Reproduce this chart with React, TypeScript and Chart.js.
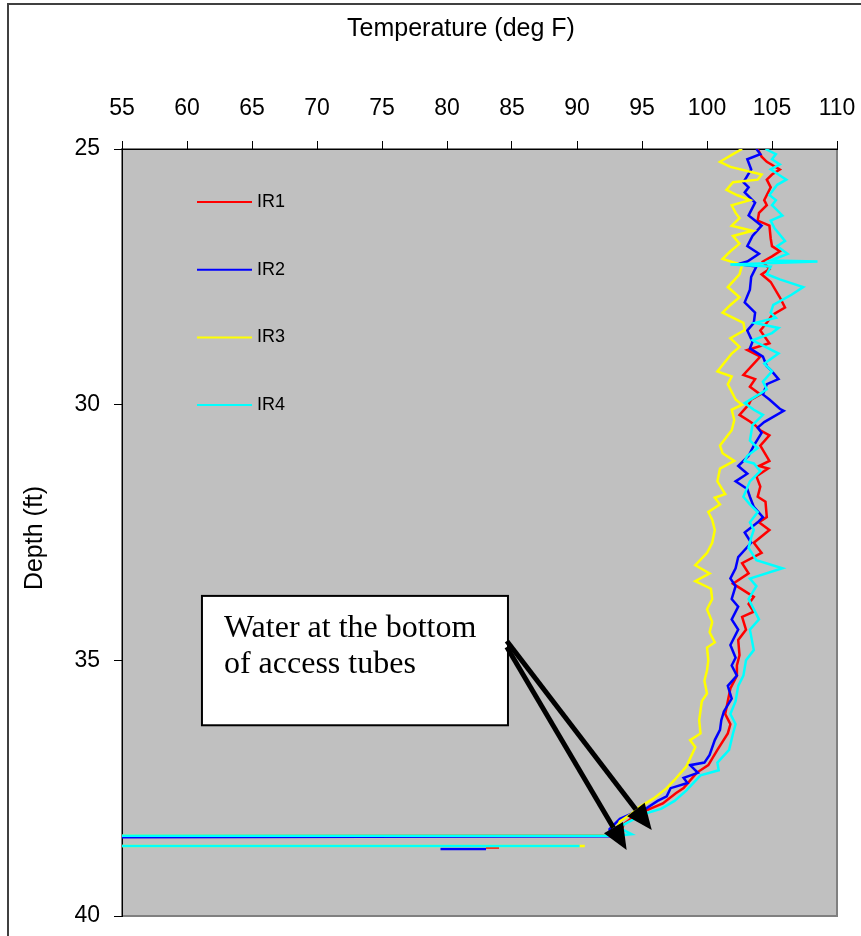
import React, { useEffect, useRef } from "react";
import { Chart, registerables } from "chart.js";

Chart.register(...registerables);

// ---------- data ----------
const seriesNames = ["IR1", "IR2", "IR3", "IR4"];
const seriesColors = ["#FF0000", "#0000FF", "#FFFF00", "#00FFFF"];

const xTicks = [55, 60, 65, 70, 75, 80, 85, 90, 95, 100, 105, 110];
const yTicks = [25, 30, 35, 40];

// IR1 (red)
const ir1Depth = [25.0, 25.15, 25.25, 25.4, 25.5, 25.6, 25.75, 26.0, 26.1, 26.25, 26.4, 26.5, 26.75, 26.9, 27.0, 27.1, 27.2, 27.35, 27.45, 27.6, 27.9, 28.1, 28.25, 28.4, 28.55, 28.8, 28.93, 29.06, 29.42, 29.5, 29.65, 29.8, 29.9, 30.0, 30.2, 30.33, 30.4, 30.5, 30.6, 30.8, 31.1, 31.2, 31.25, 31.4, 31.6, 31.8, 31.9, 32.2, 32.3, 32.45, 32.7, 32.9, 33.1, 33.3, 33.5, 33.76, 33.9, 34.05, 34.15, 34.4, 34.6, 34.9, 35.1, 35.3, 35.55, 35.8, 36.05, 36.25, 36.43, 36.75, 37.05, 37.2, 37.5, 37.6, 37.8, 37.95, 38.05, 38.2, 38.35, 38.42, 38.45, null, 38.66, 38.66];
const ir1Temp = [103.9, 104.2, 104.6, 105.6, 105.0, 104.6, 104.9, 104.4, 104.6, 104.0, 103.9, 104.8, 104.9, 105.0, 105.6, 105.0, 104.3, 104.8, 104.2, 104.9, 105.6, 106.0, 105.0, 104.6, 104.1, 104.8, 103.1, 104.1, 102.8, 103.7, 103.3, 104.1, 103.4, 103.2, 102.5, 103.3, 103.7, 104.1, 104.8, 104.1, 104.8, 104.0, 104.7, 103.8, 104.1, 103.9, 104.5, 104.6, 104.0, 104.8, 103.6, 104.2, 102.7, 103.2, 102.0, 103.6, 103.2, 103.6, 102.7, 103.0, 102.4, 102.5, 102.3, 102.3, 101.8, 101.6, 101.4, 101.8, 101.6, 100.8, 100.1, 99.2, 98.2, 97.6, 96.6, 95.2, 94.4, 93.6, 93.4, 93.0, 40.0, null, 83.0, 84.0];

// IR2 (blue)
const ir2Depth = [25.0, 25.1, 25.2, 25.4, 25.65, 25.75, 25.85, 26.05, 26.3, 26.5, 26.7, 26.9, 27.05, 27.2, 27.25, 27.3, 27.5, 27.75, 28.0, 28.2, 28.4, 28.55, 28.77, 28.9, 29.06, 29.25, 29.35, 29.5, 29.6, 29.8, 29.9, 30.08, 30.12, 30.34, 30.45, 30.55, 30.8, 31.0, 31.2, 31.35, 31.5, 31.65, 31.8, 32.0, 32.2, 32.3, 32.5, 32.7, 32.98, 33.2, 33.4, 33.55, 33.8, 33.95, 34.2, 34.4, 34.7, 34.95, 35.1, 35.3, 35.5, 35.75, 36.0, 36.17, 36.36, 36.56, 36.85, 37.0, 37.05, 37.2, 37.3, 37.4, 37.5, 37.66, 37.75, 37.9, 38.0, 38.1, 38.3, 38.44, 38.47, null, 38.69, 38.69];
const ir2Temp = [103.8, 104.1, 103.1, 103.4, 102.8, 103.2, 102.9, 103.7, 103.2, 104.2, 103.5, 103.1, 104.0, 103.1, 102.4, 103.8, 103.4, 103.3, 102.9, 103.7, 103.6, 103.1, 103.5, 103.3, 104.3, 104.6, 105.0, 105.5, 104.6, 104.3, 104.8, 105.6, 105.9, 104.4, 103.9, 104.2, 103.6, 103.2, 102.4, 103.1, 102.2, 103.1, 103.3, 103.6, 104.3, 103.9, 102.9, 103.4, 102.4, 102.2, 101.8, 102.2, 101.9, 102.4, 101.9, 102.4, 101.8, 102.2, 101.9, 102.3, 101.6, 101.9, 101.3, 101.1, 101.0, 100.6, 100.2, 99.8, 98.7, 99.3, 98.2, 98.5, 97.2, 96.9, 96.2, 95.3, 94.2, 93.3, 92.5, 92.6, 40.0, null, 79.5, 83.0];

// IR3 (yellow)
const ir3Depth = [25.0, 25.1, 25.25, 25.35, 25.5, 25.6, 25.65, 25.8, 25.9, 26.0, 26.1, 26.25, 26.35, 26.5, 26.6, 26.7, 26.85, 27.0, 27.15, 27.27, 27.45, 27.7, 27.9, 28.05, 28.2, 28.4, 28.54, 28.7, 28.87, 29.0, 29.35, 29.45, 29.6, 29.9, 30.0, 30.1, 30.3, 30.5, 30.8, 30.95, 31.1, 31.25, 31.5, 31.75, 31.82, 31.95, 32.1, 32.25, 32.45, 32.7, 32.9, 33.14, 33.3, 33.45, 33.6, 33.8, 34.0, 34.25, 34.45, 34.65, 34.75, 35.0, 35.2, 35.4, 35.65, 35.8, 36.17, 36.43, 36.56, 36.7, 37.08, 37.34, 37.5, 37.7, 37.87, 38.0, 38.15, 38.27, 38.38, 38.43, 38.43, 38.63, 38.63];
const ir3Temp = [102.7, 102.0, 101.0, 101.8, 104.2, 103.9, 102.0, 101.5, 102.3, 103.3, 101.9, 102.2, 102.5, 101.9, 103.5, 102.0, 102.5, 101.8, 101.2, 102.7, 102.5, 101.6, 102.5, 101.8, 101.2, 102.8, 102.9, 101.8, 102.5, 101.9, 100.8, 101.9, 101.6, 102.2, 102.7, 101.9, 102.1, 101.9, 101.0, 101.2, 102.1, 101.0, 100.8, 101.4, 100.6, 101.0, 100.1, 100.4, 100.6, 100.4, 100.0, 99.1, 100.2, 99.1, 100.3, 100.4, 100.0, 100.4, 100.2, 100.6, 100.0, 100.1, 100.0, 99.8, 100.0, 99.6, 99.4, 99.5, 98.7, 99.1, 98.4, 97.5, 96.9, 95.9, 94.8, 94.2, 93.3, 93.1, 92.8, 92.6, 40.0, 40.0, 90.6];

// IR4 (cyan)
const ir4Depth = [25.0, 25.1, 25.2, 25.3, 25.4, 25.6, 25.7, 25.9, 26.0, 26.1, 26.3, 26.4, 26.55, 26.8, 26.9, 27.05, 27.18, 27.2, 27.26, 27.3, 27.45, 27.55, 27.7, 27.85, 28.05, 28.2, 28.3, 28.4, 28.45, 28.5, 28.6, 28.74, 29.0, 29.2, 29.35, 29.55, 29.7, 29.8, 29.97, 30.1, 30.2, 30.4, 30.7, 30.85, 31.0, 31.1, 31.15, 31.3, 31.5, 31.8, 31.95, 32.1, 32.3, 32.45, 32.6, 32.8, 33.04, 33.2, 33.4, 33.55, 33.8, 34.2, 34.4, 34.8, 35.0, 35.3, 35.5, 35.8, 36.05, 36.25, 36.43, 36.75, 37.0, 37.15, 37.25, 37.55, 37.75, 37.9, 38.0, 38.17, 38.27, 38.4, 38.43, 38.43, 38.63, 38.63];
const ir4Temp = [104.5, 105.3, 105.0, 105.6, 104.9, 106.1, 105.4, 104.8, 105.3, 105.0, 105.8, 104.9, 105.2, 106.0, 105.4, 106.2, 104.9, 108.5, 101.8, 104.9, 104.6, 105.6, 107.4, 106.5, 105.1, 104.9, 105.3, 103.7, 104.6, 105.5, 105.0, 103.5, 105.5, 104.4, 105.0, 104.3, 104.6, 104.0, 102.9, 103.6, 104.3, 103.5, 103.3, 103.9, 103.1, 102.9, 103.6, 104.1, 103.3, 102.8, 103.3, 103.9, 103.3, 103.6, 103.4, 103.2, 103.8, 105.8, 103.3, 103.8, 103.2, 104.0, 103.3, 103.6, 103.0, 102.8, 102.4, 102.2, 101.8, 102.2, 102.0, 101.7, 100.8, 100.9, 99.5, 98.4, 97.5, 96.5, 95.2, 93.9, 93.2, 94.2, 93.0, 40.0, 40.0, 90.2];

const depthSets = [ir1Depth, ir2Depth, ir3Depth, ir4Depth];
const tempSets = [ir1Temp, ir2Temp, ir3Temp, ir4Temp];

// annotation (in data units)
const noteLines = ["Water at the bottom", "of access tubes"];
const noteBox = { t0: 61.15, t1: 84.69, d0: 33.74, d1: 36.27 };
const arrowStarts = [{ t: 84.6, d: 34.62 }, { t: 84.6, d: 34.74 }];
const arrowTips = [{ t: 95.75, d: 38.32 }, { t: 93.82, d: 38.71 }];

const SANS = "Arial, 'Liberation Sans', Helvetica, sans-serif";
const SERIF = "'Times New Roman', 'Liberation Serif', serif";

function drawArrow(ctx: CanvasRenderingContext2D, x1: number, y1: number, x2: number, y2: number) {
  const ang = Math.atan2(y2 - y1, x2 - x1);
  const headLen = 26;
  const headW = 11;
  const bx = x2 - headLen * Math.cos(ang);
  const by = y2 - headLen * Math.sin(ang);
  ctx.beginPath();
  ctx.moveTo(x1, y1);
  ctx.lineTo(bx, by);
  ctx.lineWidth = 5;
  ctx.strokeStyle = "#000";
  ctx.stroke();
  ctx.beginPath();
  ctx.moveTo(x2, y2);
  ctx.lineTo(bx + headW * Math.sin(ang), by - headW * Math.cos(ang));
  ctx.lineTo(bx - headW * Math.sin(ang), by + headW * Math.cos(ang));
  ctx.closePath();
  ctx.fillStyle = "#000";
  ctx.fill();
}

const decorPlugin = {
  id: "decor",
  beforeDraw(chart: any) {
    const { ctx, chartArea: a } = chart;
    ctx.save();
    ctx.fillStyle = "#FFFFFF";
    ctx.fillRect(0, 0, chart.width, chart.height);
    ctx.strokeStyle = "#404040";
    ctx.lineWidth = 2;
    ctx.strokeRect(8, 4, chart.width + 40, chart.height + 40);
    ctx.fillStyle = "#C0C0C0";
    ctx.fillRect(a.left, a.top, a.right - a.left, a.bottom - a.top);
    ctx.strokeStyle = "#808080";
    ctx.lineWidth = 2;
    ctx.strokeRect(a.left, a.top, a.right - a.left, a.bottom - a.top);
    // axis titles
    ctx.fillStyle = "#000";
    ctx.font = `25px ${SANS}`;
    ctx.textAlign = "center";
    ctx.textBaseline = "middle";
    ctx.fillText("Temperature (deg F)", 461, 29);
    ctx.translate(35, 538);
    ctx.rotate(-Math.PI / 2);
    ctx.fillText("Depth (ft)", 0, 0);
    ctx.restore();
  },
  afterDraw(chart: any) {
    const { ctx, chartArea: a, scales } = chart;
    const xs = scales.x;
    const ys = scales.y;
    ctx.save();
    // legend
    ctx.font = `18px ${SANS}`;
    ctx.textAlign = "left";
    ctx.textBaseline = "middle";
    seriesNames.forEach((name, i) => {
      const y = a.top + 53 + i * 67.7;
      ctx.beginPath();
      ctx.moveTo(a.left + 75, y);
      ctx.lineTo(a.left + 130, y);
      ctx.strokeStyle = seriesColors[i];
      ctx.lineWidth = 2;
      ctx.stroke();
      ctx.fillStyle = "#000";
      ctx.fillText(name, a.left + 135, y);
    });
    // annotation box
    const bx0 = xs.getPixelForValue(noteBox.t0);
    const bx1 = xs.getPixelForValue(noteBox.t1);
    const by0 = ys.getPixelForValue(noteBox.d0);
    const by1 = ys.getPixelForValue(noteBox.d1);
    ctx.fillStyle = "#FFFFFF";
    ctx.fillRect(bx0, by0, bx1 - bx0, by1 - by0);
    ctx.strokeStyle = "#000";
    ctx.lineWidth = 2;
    ctx.strokeRect(bx0, by0, bx1 - bx0, by1 - by0);
    ctx.fillStyle = "#000";
    ctx.font = `32px ${SERIF}`;
    ctx.textBaseline = "alphabetic";
    noteLines.forEach((line, i) => {
      ctx.fillText(line, bx0 + 22, by0 + 41 + i * 36);
    });
    // arrows
    arrowTips.forEach((tip, i) => {
      const s = arrowStarts[i];
      drawArrow(
        ctx,
        xs.getPixelForValue(s.t),
        ys.getPixelForValue(s.d),
        xs.getPixelForValue(tip.t),
        ys.getPixelForValue(tip.d)
      );
    });
    ctx.restore();
  },
};

export default function App() {
  const canvasRef = useRef<HTMLCanvasElement | null>(null);

  useEffect(() => {
    const canvas = canvasRef.current;
    if (!canvas) return;
    const datasets = seriesNames.map((name, si) => ({
      label: name,
      data: depthSets[si].map((d, i) => ({
        x: tempSets[si][i] === null ? NaN : (tempSets[si][i] as number),
        y: d === null ? NaN : (d as number),
      })),
      borderColor: seriesColors[si],
      backgroundColor: seriesColors[si],
      borderWidth: 2.5,
      pointRadius: 0,
      showLine: true,
      tension: 0,
      spanGaps: false,
      order: 3 - si,
    }));

    const tickFont = { size: 23, family: SANS };
    const chart = new Chart(canvas, {
      type: "scatter",
      data: { datasets },
      plugins: [decorPlugin],
      options: {
        responsive: false,
        animation: false,
        devicePixelRatio: 1,
        layout: { padding: { left: 0, top: 0, right: 24, bottom: 20 } },
        plugins: {
          legend: { display: false },
          tooltip: { enabled: false },
          title: { display: false },
        },
        scales: {
          x: {
            type: "linear",
            position: "top",
            min: xTicks[0],
            max: xTicks[xTicks.length - 1],
            afterBuildTicks: (s: any) => {
              s.ticks = xTicks.map((v) => ({ value: v }));
            },
            ticks: {
              color: "#000",
              font: tickFont,
              padding: 19,
              maxRotation: 0,
              autoSkip: false,
            },
            grid: {
              drawOnChartArea: false,
              drawTicks: true,
              tickLength: 8,
              tickColor: "#000",
              color: "#000",
            },
            border: { display: true, color: "#000", width: 1 },
            afterFit: (s: any) => {
              s.height = 149;
              s.paddingLeft = 0;
              s.paddingRight = 0;
            },
          },
          y: {
            type: "linear",
            reverse: true,
            min: yTicks[0],
            max: yTicks[yTicks.length - 1],
            afterBuildTicks: (s: any) => {
              s.ticks = yTicks.map((v) => ({ value: v }));
            },
            ticks: {
              color: "#000",
              font: tickFont,
              padding: 14,
              autoSkip: false,
            },
            grid: {
              drawOnChartArea: false,
              drawTicks: true,
              tickLength: 8,
              tickColor: "#000",
              color: "#000",
            },
            border: { display: true, color: "#000", width: 1 },
            afterFit: (s: any) => {
              s.width = 122;
              s.paddingTop = 0;
              s.paddingBottom = 0;
            },
          },
        },
      } as any,
    });
    return () => chart.destroy();
  }, []);

  return (
    <div style={{ position: "fixed", left: 0, top: 0, width: 861, height: 936, background: "#fff" }}>
      <canvas ref={canvasRef} width={861} height={936} style={{ display: "block" }} />
    </div>
  );
}
